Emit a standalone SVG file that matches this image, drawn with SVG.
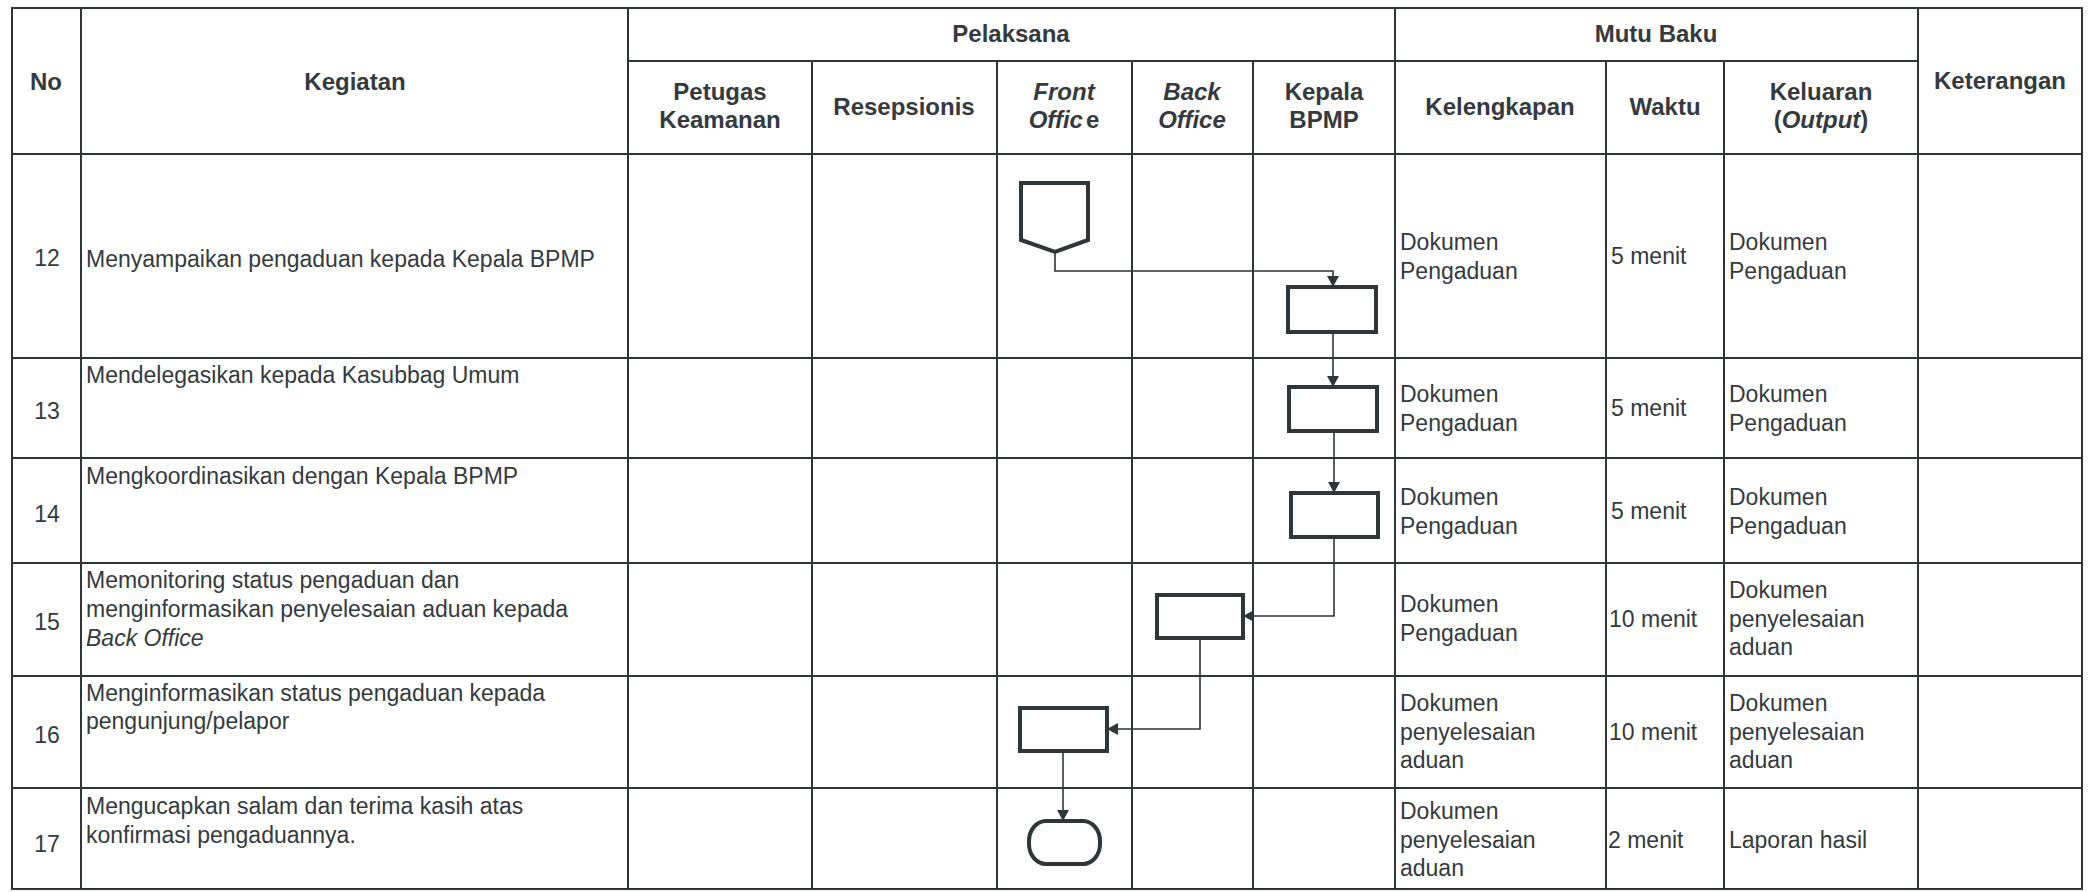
<svg xmlns="http://www.w3.org/2000/svg" width="2088" height="892" viewBox="0 0 2088 892">
<style>
.h{font-family:"Liberation Sans",Arial,sans-serif;font-weight:bold;font-size:24px;fill:#343a3e;text-anchor:middle}
.t{font-family:"Liberation Sans",Arial,sans-serif;font-size:23px;fill:#343a3e}
.n{text-anchor:middle}
.i{font-style:italic}
.grid{stroke:#2f3538;stroke-width:2;fill:none}
.shape{fill:#fff;stroke:#2f3538;stroke-width:4}
.conn{fill:none;stroke:#2f3538;stroke-width:1.6}
</style>
<defs>
<marker id="arr" markerUnits="userSpaceOnUse" markerWidth="12" markerHeight="12" refX="11" refY="6" orient="auto">
<path d="M0,0 L11,6 L0,12 z" fill="#2f3538"/>
</marker>
</defs>
<rect width="2088" height="892" fill="#fff"/>
<g id="table" class="grid">
<rect x="12" y="8" width="2070" height="881"/>
<path d="M628,61 H1918 M12,154 H2082 M12,358 H2082 M12,458 H2082 M12,563 H2082 M12,676 H2082 M12,788 H2082"/>
<path d="M81,8 V889 M628,8 V889 M1395,8 V889 M1918,8 V889 M812,61 V889 M997,61 V889 M1132,61 V889 M1253,61 V889 M1606,61 V889 M1724,61 V889"/>
</g>
<g id="header">
<text class="h" x="46" y="90">No</text>
<text class="h" x="355" y="90">Kegiatan</text>
<text class="h" x="1011" y="42">Pelaksana</text>
<text class="h" x="1656" y="42">Mutu Baku</text>
<text class="h" x="2000" y="89">Keterangan</text>
<text class="h" x="720" y="100">Petugas</text>
<text class="h" x="720" y="128">Keamanan</text>
<text class="h" x="904" y="115">Resepsionis</text>
<text class="h" x="1064" y="100"><tspan class="i">Front</tspan></text>
<text class="h" x="1064" y="128"><tspan class="i">Offic</tspan><tspan dx="3">e</tspan></text>
<text class="h" x="1192" y="100"><tspan class="i">Back</tspan></text>
<text class="h" x="1192" y="128"><tspan class="i">Office</tspan></text>
<text class="h" x="1324" y="100">Kepala</text>
<text class="h" x="1324" y="128">BPMP</text>
<text class="h" x="1500" y="115">Kelengkapan</text>
<text class="h" x="1665" y="115">Waktu</text>
<text class="h" x="1821" y="100">Keluaran</text>
<text class="h" x="1821" y="128">(<tspan class="i">Output</tspan>)</text>
</g>
<g id="row12">
<text class="t n" x="47" y="266">12</text>
<text class="t" x="86" y="267">Menyampaikan pengaduan kepada Kepala BPMP</text>
<text class="t" x="1400" y="250">Dokumen</text>
<text class="t" x="1400" y="279">Pengaduan</text>
<text class="t" x="1611" y="264">5 menit</text>
<text class="t" x="1729" y="250">Dokumen</text>
<text class="t" x="1729" y="279">Pengaduan</text>
</g>
<g id="row13">
<text class="t n" x="47" y="419">13</text>
<text class="t" x="86" y="383">Mendelegasikan kepada Kasubbag Umum</text>
<text class="t" x="1400" y="402">Dokumen</text>
<text class="t" x="1400" y="431">Pengaduan</text>
<text class="t" x="1611" y="416">5 menit</text>
<text class="t" x="1729" y="402">Dokumen</text>
<text class="t" x="1729" y="431">Pengaduan</text>
</g>
<g id="row14">
<text class="t n" x="47" y="522">14</text>
<text class="t" x="86" y="484">Mengkoordinasikan dengan Kepala BPMP</text>
<text class="t" x="1400" y="505">Dokumen</text>
<text class="t" x="1400" y="534">Pengaduan</text>
<text class="t" x="1611" y="519">5 menit</text>
<text class="t" x="1729" y="505">Dokumen</text>
<text class="t" x="1729" y="534">Pengaduan</text>
</g>
<g id="row15">
<text class="t n" x="47" y="630">15</text>
<text class="t" x="86" y="588">Memonitoring status pengaduan dan</text>
<text class="t" x="86" y="617">menginformasikan penyelesaian aduan kepada</text>
<text class="t i" x="86" y="646">Back Office</text>
<text class="t" x="1400" y="612">Dokumen</text>
<text class="t" x="1400" y="641">Pengaduan</text>
<text class="t" x="1609" y="627">10 menit</text>
<text class="t" x="1729" y="598">Dokumen</text>
<text class="t" x="1729" y="627">penyelesaian</text>
<text class="t" x="1729" y="655">aduan</text>
</g>
<g id="row16">
<text class="t n" x="47" y="743">16</text>
<text class="t" x="86" y="701">Menginformasikan status pengaduan kepada</text>
<text class="t" x="86" y="729">pengunjung/pelapor</text>
<text class="t" x="1400" y="711">Dokumen</text>
<text class="t" x="1400" y="740">penyelesaian</text>
<text class="t" x="1400" y="768">aduan</text>
<text class="t" x="1609" y="740">10 menit</text>
<text class="t" x="1729" y="711">Dokumen</text>
<text class="t" x="1729" y="740">penyelesaian</text>
<text class="t" x="1729" y="768">aduan</text>
</g>
<g id="row17">
<text class="t n" x="47" y="852">17</text>
<text class="t" x="86" y="814">Mengucapkan salam dan terima kasih atas</text>
<text class="t" x="86" y="843">konfirmasi pengaduannya.</text>
<text class="t" x="1400" y="819">Dokumen</text>
<text class="t" x="1400" y="848">penyelesaian</text>
<text class="t" x="1400" y="876">aduan</text>
<text class="t" x="1608" y="848">2 menit</text>
<text class="t" x="1729" y="848">Laporan hasil</text>
</g>
<g id="connectors" class="conn">
<path d="M1055,252 V271 H1333 V287" marker-end="url(#arr)"/>
<path d="M1333,332 V387" marker-end="url(#arr)"/>
<path d="M1334,431 V493" marker-end="url(#arr)"/>
<path d="M1334,537 V616 H1243" marker-end="url(#arr)"/>
<path d="M1200,638 V729 H1107" marker-end="url(#arr)"/>
<path d="M1063,751 V821" marker-end="url(#arr)"/>
</g>
<g id="node-offpage">
<polygon class="shape" points="1021,183 1088,183 1088,240 1055,252 1021,240"/>
</g>
<g id="node-12">
<rect class="shape" x="1288" y="287" width="88" height="45"/>
</g>
<g id="node-13">
<rect class="shape" x="1289" y="387" width="88" height="44"/>
</g>
<g id="node-14">
<rect class="shape" x="1291" y="493" width="87" height="44"/>
</g>
<g id="node-15">
<rect class="shape" x="1157" y="595" width="86" height="43"/>
</g>
<g id="node-16">
<rect class="shape" x="1020" y="708" width="87" height="43"/>
</g>
<g id="node-17">
<rect class="shape" x="1029" y="821" width="71" height="43" rx="17" ry="20"/>
</g>
</svg>
